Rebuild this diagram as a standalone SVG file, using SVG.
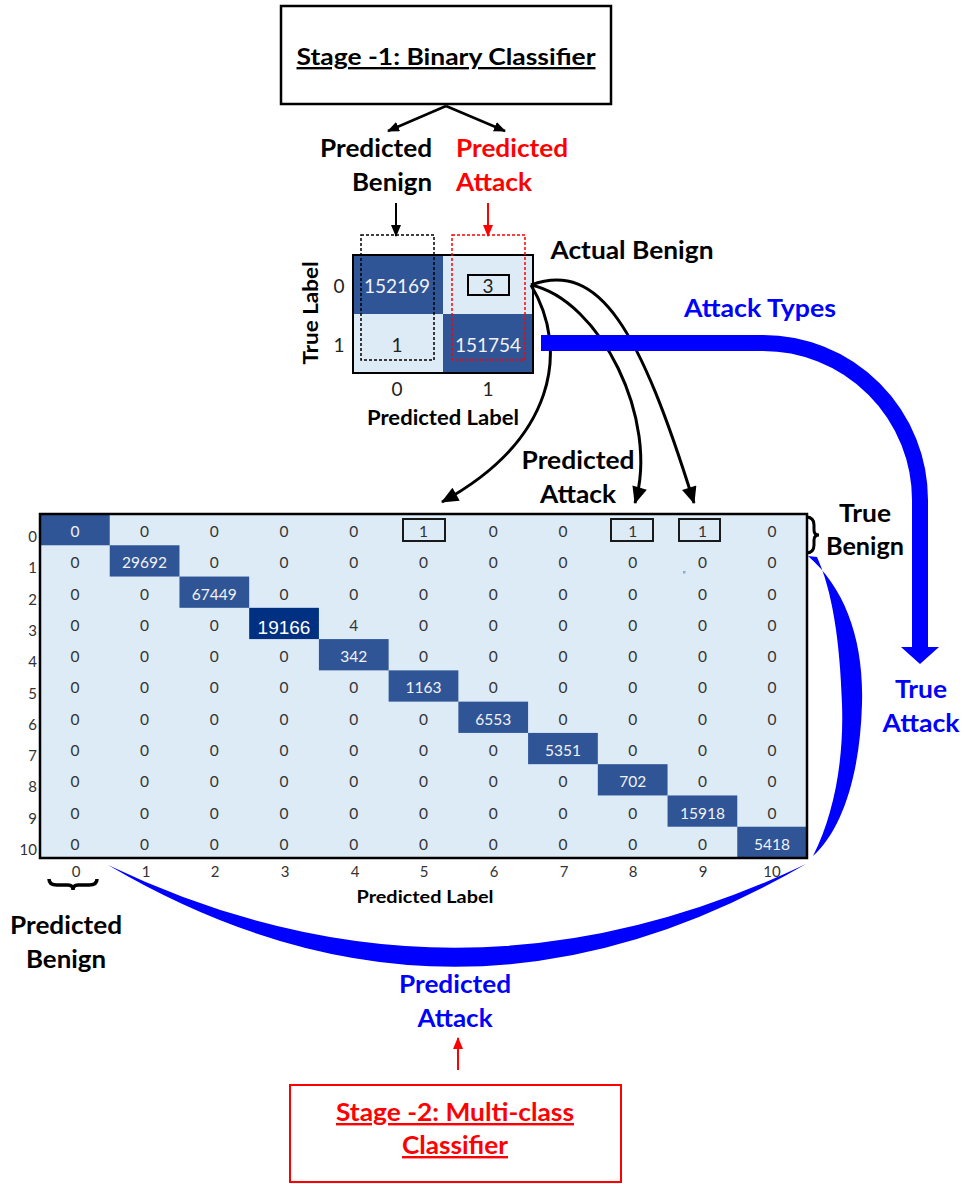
<svg xmlns="http://www.w3.org/2000/svg" width="964" height="1184" viewBox="0 0 964 1184">
<style>
.lb{font-family:Lato,"Liberation Sans",sans-serif;font-weight:bold;text-anchor:middle}
.k{fill:#000}
.r{fill:#FF0000}
.b{fill:#0000FF}
.c{font-family:Lato,"Liberation Sans",sans-serif;font-size:15.5px;text-anchor:middle;fill:#333}
.cw{font-family:Lato,"Liberation Sans",sans-serif;font-size:15.5px;text-anchor:middle;fill:#F2F2F2}
.ax{font-family:Lato,"Liberation Sans",sans-serif;font-size:15px;fill:#333}
.sm{font-family:Lato,"Liberation Sans",sans-serif;font-size:19px;text-anchor:middle}
.dk{fill:#2F5597}
.lt{fill:#DDEBF7}
.bx{fill:none;stroke:#1a1a1a;stroke-width:2}
.cv{fill:none;stroke:#000;stroke-width:3}
</style>
<defs>
<marker id="ah" viewBox="0 0 12 10" refX="11" refY="5" markerWidth="12" markerHeight="10" markerUnits="userSpaceOnUse" orient="auto">
<path d="M0,0 L12,5 L0,10 Z" fill="#000"/>
</marker>
<marker id="ahr" viewBox="0 0 12 10" refX="11" refY="5" markerWidth="12" markerHeight="10" markerUnits="userSpaceOnUse" orient="auto">
<path d="M0,0 L12,5 L0,10 Z" fill="#FF0000"/>
</marker>
<marker id="ahb" viewBox="0 0 16 14" refX="15" refY="7" markerWidth="18" markerHeight="15" markerUnits="userSpaceOnUse" orient="auto">
<path d="M0,0 L16,7 L0,14 Z" fill="#000"/>
</marker>
</defs>
<rect width="964" height="1184" fill="#fff"/>

<g id="stage1">
<rect x="281" y="6" width="330" height="98" fill="#fff" stroke="#000" stroke-width="2.5"/>
<text class="lb k" x="446" y="65" font-size="23.5" text-decoration="underline" textLength="299" lengthAdjust="spacingAndGlyphs">Stage -1: Binary Classifier</text>
</g>

<g id="pred-benign-top">
<text class="lb k" x="376" y="157" font-size="25" textLength="112" lengthAdjust="spacingAndGlyphs">Predicted</text>
<text class="lb k" x="392" y="191" font-size="25" textLength="80" lengthAdjust="spacingAndGlyphs">Benign</text>
</g>
<g id="pred-attack-top">
<text class="lb r" x="512" y="157" font-size="25" textLength="112" lengthAdjust="spacingAndGlyphs">Predicted</text>
<text class="lb r" x="494" y="191" font-size="25" textLength="76" lengthAdjust="spacingAndGlyphs">Attack</text>
</g>

<g id="binary-matrix">
<rect x="353" y="255" width="90" height="59" class="dk"/>
<rect x="443" y="255" width="90" height="59" class="lt"/>
<rect x="353" y="314" width="90" height="59" class="lt"/>
<rect x="443" y="314" width="90" height="59" class="dk"/>
<rect x="353" y="255" width="180" height="118" fill="none" stroke="#000" stroke-width="2"/>
<rect x="361" y="235" width="73" height="125" fill="none" stroke="#000" stroke-width="1.5" stroke-dasharray="3 2"/>
<rect x="452" y="235" width="73" height="125" fill="none" stroke="#FF0000" stroke-width="1.5" stroke-dasharray="3 2"/>
<rect x="468" y="275" width="41" height="20" fill="none" stroke="#000" stroke-width="2"/>
<text class="sm" x="397" y="293" fill="#F2F2F2">152169</text>
<text class="sm" x="488" y="293" fill="#222">3</text>
<text class="sm" x="397" y="352" fill="#222">1</text>
<text class="sm" x="488" y="352" fill="#F2F2F2">151754</text>
<text class="sm" x="339" y="293" fill="#222">0</text>
<text class="sm" x="339" y="352" fill="#222">1</text>
<text class="sm" x="397" y="396" fill="#222">0</text>
<text class="sm" x="488" y="396" fill="#222">1</text>
<text class="lb k" x="443" y="425" font-size="20" textLength="152" lengthAdjust="spacingAndGlyphs">Predicted Label</text>
<text class="lb k" font-size="20" transform="translate(318,313) rotate(-90)" textLength="103" lengthAdjust="spacingAndGlyphs">True Label</text>
</g>

<g id="actual-benign">
<text class="lb k" x="632" y="259" font-size="24" textLength="163" lengthAdjust="spacingAndGlyphs">Actual Benign</text>
</g>
<g id="attack-types">
<text class="lb b" x="760" y="317" font-size="24" textLength="152" lengthAdjust="spacingAndGlyphs">Attack Types</text>
</g>
<g id="pred-attack-mid">
<text class="lb k" x="578" y="469" font-size="25" textLength="113" lengthAdjust="spacingAndGlyphs">Predicted</text>
<text class="lb k" x="578" y="503" font-size="25" textLength="76" lengthAdjust="spacingAndGlyphs">Attack</text>
</g>
<g id="true-benign">
<path d="M806,517 q8,0 8,8 v5 q0,5 5,5 q-5,0 -5,5 v5 q0,8 -8,8" fill="none" stroke="#000" stroke-width="3"/>
<text class="lb k" x="865" y="522" font-size="24" textLength="52" lengthAdjust="spacingAndGlyphs">True</text>
<text class="lb k" x="865" y="555" font-size="24" textLength="78" lengthAdjust="spacingAndGlyphs">Benign</text>
</g>
<g id="true-attack">
<text class="lb b" x="921" y="698" font-size="24" textLength="52" lengthAdjust="spacingAndGlyphs">True</text>
<text class="lb b" x="921" y="732" font-size="24" textLength="77" lengthAdjust="spacingAndGlyphs">Attack</text>
</g>

<g id="multiclass-matrix">
<rect x="40" y="514" width="767" height="344" class="lt"/>
<rect x="40" y="514" width="69.73" height="31.27" class="dk"/>
<rect x="109.73" y="545.27" width="69.73" height="31.27" class="dk"/>
<rect x="179.45" y="576.55" width="69.73" height="31.27" class="dk"/>
<rect x="249.18" y="607.82" width="69.73" height="31.27" fill="#003082"/>
<rect x="318.91" y="639.09" width="69.73" height="31.27" class="dk"/>
<rect x="388.64" y="670.36" width="69.73" height="31.27" class="dk"/>
<rect x="458.36" y="701.64" width="69.73" height="31.27" class="dk"/>
<rect x="528.09" y="732.91" width="69.73" height="31.27" class="dk"/>
<rect x="597.82" y="764.18" width="69.73" height="31.27" class="dk"/>
<rect x="667.55" y="795.45" width="69.73" height="31.27" class="dk"/>
<rect x="737.27" y="826.73" width="69.73" height="31.27" class="dk"/>
<rect x="40" y="514" width="767" height="344" fill="none" stroke="#000" stroke-width="2.5"/>
<rect x="403" y="519" width="42" height="22" class="bx"/>
<rect x="611" y="519" width="42" height="22" class="bx"/>
<rect x="679" y="519" width="41" height="22" class="bx"/>
<rect x="683" y="571" width="2.5" height="2.5" fill="#8EA9DB"/>
<!-- row 0 -->
<text class="cw" x="74.9" y="537">0</text><text class="c" x="144.6" y="537">0</text><text class="c" x="214.3" y="537">0</text><text class="c" x="284" y="537">0</text><text class="c" x="353.8" y="537">0</text><text class="c" x="423.5" y="537">1</text><text class="c" x="493.2" y="537">0</text><text class="c" x="562.9" y="537">0</text><text class="c" x="632.7" y="537">1</text><text class="c" x="702.4" y="537">1</text><text class="c" x="772.1" y="537">0</text>
<!-- row 1 -->
<text class="c" x="74.9" y="568.3">0</text><text class="cw" x="144.6" y="568.3">29692</text><text class="c" x="214.3" y="568.3">0</text><text class="c" x="284" y="568.3">0</text><text class="c" x="353.8" y="568.3">0</text><text class="c" x="423.5" y="568.3">0</text><text class="c" x="493.2" y="568.3">0</text><text class="c" x="562.9" y="568.3">0</text><text class="c" x="632.7" y="568.3">0</text><text class="c" x="702.4" y="568.3">0</text><text class="c" x="772.1" y="568.3">0</text>
<!-- row 2 -->
<text class="c" x="74.9" y="599.6">0</text><text class="c" x="144.6" y="599.6">0</text><text class="cw" x="214.3" y="599.6">67449</text><text class="c" x="284" y="599.6">0</text><text class="c" x="353.8" y="599.6">0</text><text class="c" x="423.5" y="599.6">0</text><text class="c" x="493.2" y="599.6">0</text><text class="c" x="562.9" y="599.6">0</text><text class="c" x="632.7" y="599.6">0</text><text class="c" x="702.4" y="599.6">0</text><text class="c" x="772.1" y="599.6">0</text>
<!-- row 3 -->
<text class="c" x="74.9" y="630.9">0</text><text class="c" x="144.6" y="630.9">0</text><text class="c" x="214.3" y="630.9">0</text><text x="284" y="634" font-family="'Liberation Sans',Arial,sans-serif" font-size="19" text-anchor="middle" fill="#fff">19166</text><text class="c" x="353.8" y="630.9">4</text><text class="c" x="423.5" y="630.9">0</text><text class="c" x="493.2" y="630.9">0</text><text class="c" x="562.9" y="630.9">0</text><text class="c" x="632.7" y="630.9">0</text><text class="c" x="702.4" y="630.9">0</text><text class="c" x="772.1" y="630.9">0</text>
<!-- row 4 -->
<text class="c" x="74.9" y="662.1">0</text><text class="c" x="144.6" y="662.1">0</text><text class="c" x="214.3" y="662.1">0</text><text class="c" x="284" y="662.1">0</text><text class="cw" x="353.8" y="662.1">342</text><text class="c" x="423.5" y="662.1">0</text><text class="c" x="493.2" y="662.1">0</text><text class="c" x="562.9" y="662.1">0</text><text class="c" x="632.7" y="662.1">0</text><text class="c" x="702.4" y="662.1">0</text><text class="c" x="772.1" y="662.1">0</text>
<!-- row 5 -->
<text class="c" x="74.9" y="693.4">0</text><text class="c" x="144.6" y="693.4">0</text><text class="c" x="214.3" y="693.4">0</text><text class="c" x="284" y="693.4">0</text><text class="c" x="353.8" y="693.4">0</text><text class="cw" x="423.5" y="693.4">1163</text><text class="c" x="493.2" y="693.4">0</text><text class="c" x="562.9" y="693.4">0</text><text class="c" x="632.7" y="693.4">0</text><text class="c" x="702.4" y="693.4">0</text><text class="c" x="772.1" y="693.4">0</text>
<!-- row 6 -->
<text class="c" x="74.9" y="724.7">0</text><text class="c" x="144.6" y="724.7">0</text><text class="c" x="214.3" y="724.7">0</text><text class="c" x="284" y="724.7">0</text><text class="c" x="353.8" y="724.7">0</text><text class="c" x="423.5" y="724.7">0</text><text class="cw" x="493.2" y="724.7">6553</text><text class="c" x="562.9" y="724.7">0</text><text class="c" x="632.7" y="724.7">0</text><text class="c" x="702.4" y="724.7">0</text><text class="c" x="772.1" y="724.7">0</text>
<!-- row 7 -->
<text class="c" x="74.9" y="755.9">0</text><text class="c" x="144.6" y="755.9">0</text><text class="c" x="214.3" y="755.9">0</text><text class="c" x="284" y="755.9">0</text><text class="c" x="353.8" y="755.9">0</text><text class="c" x="423.5" y="755.9">0</text><text class="c" x="493.2" y="755.9">0</text><text class="cw" x="562.9" y="755.9">5351</text><text class="c" x="632.7" y="755.9">0</text><text class="c" x="702.4" y="755.9">0</text><text class="c" x="772.1" y="755.9">0</text>
<!-- row 8 -->
<text class="c" x="74.9" y="787.2">0</text><text class="c" x="144.6" y="787.2">0</text><text class="c" x="214.3" y="787.2">0</text><text class="c" x="284" y="787.2">0</text><text class="c" x="353.8" y="787.2">0</text><text class="c" x="423.5" y="787.2">0</text><text class="c" x="493.2" y="787.2">0</text><text class="c" x="562.9" y="787.2">0</text><text class="cw" x="632.7" y="787.2">702</text><text class="c" x="702.4" y="787.2">0</text><text class="c" x="772.1" y="787.2">0</text>
<!-- row 9 -->
<text class="c" x="74.9" y="818.5">0</text><text class="c" x="144.6" y="818.5">0</text><text class="c" x="214.3" y="818.5">0</text><text class="c" x="284" y="818.5">0</text><text class="c" x="353.8" y="818.5">0</text><text class="c" x="423.5" y="818.5">0</text><text class="c" x="493.2" y="818.5">0</text><text class="c" x="562.9" y="818.5">0</text><text class="c" x="632.7" y="818.5">0</text><text class="cw" x="702.4" y="818.5">15918</text><text class="c" x="772.1" y="818.5">0</text>
<!-- row 10 -->
<text class="c" x="74.9" y="849.8">0</text><text class="c" x="144.6" y="849.8">0</text><text class="c" x="214.3" y="849.8">0</text><text class="c" x="284" y="849.8">0</text><text class="c" x="353.8" y="849.8">0</text><text class="c" x="423.5" y="849.8">0</text><text class="c" x="493.2" y="849.8">0</text><text class="c" x="562.9" y="849.8">0</text><text class="c" x="632.7" y="849.8">0</text><text class="c" x="702.4" y="849.8">0</text><text class="cw" x="772.1" y="849.8">5418</text>
<!-- row labels -->
<g class="ax" text-anchor="end">
<text x="37" y="542">0</text><text x="37" y="573.4">1</text><text x="37" y="604.7">2</text><text x="37" y="636">3</text><text x="37" y="667.2">4</text><text x="37" y="698.5">5</text><text x="37" y="729.8">6</text><text x="37" y="761">7</text><text x="37" y="792.3">8</text><text x="37" y="823.6">9</text><text x="37" y="855">10</text>
</g>
<!-- column labels -->
<g class="ax" text-anchor="middle" font-size="14">
<text x="76" y="877">0</text><text x="146" y="877">1</text><text x="215" y="877">2</text><text x="285" y="877">3</text><text x="355" y="877">4</text><text x="424" y="877">5</text><text x="494" y="877">6</text><text x="564" y="877">7</text><text x="633" y="877">8</text><text x="703" y="877">9</text><text x="772" y="877">10</text>
</g>
<text class="lb k" x="425" y="903" font-size="16.5" textLength="137" lengthAdjust="spacingAndGlyphs">Predicted Label</text>
</g>

<g id="pred-benign-bottom">
<path d="M49,879 q0,6 8,6 h11 q5,0 5,5 q0,-5 5,-5 h11 q8,0 8,-6" fill="none" stroke="#000" stroke-width="3.5"/>
<text class="lb k" x="66" y="934" font-size="25" textLength="112" lengthAdjust="spacingAndGlyphs">Predicted</text>
<text class="lb k" x="66" y="968" font-size="25" textLength="80" lengthAdjust="spacingAndGlyphs">Benign</text>
</g>
<g id="pred-attack-bottom">
<text class="lb b" x="455" y="993" font-size="25" textLength="112" lengthAdjust="spacingAndGlyphs">Predicted</text>
<text class="lb b" x="455" y="1027" font-size="25" textLength="75" lengthAdjust="spacingAndGlyphs">Attack</text>
</g>

<g id="stage2">
<rect x="290" y="1085" width="331" height="97" fill="#fff" stroke="#FF0000" stroke-width="2"/>
<text class="lb r" x="455" y="1121" font-size="24" text-decoration="underline" textLength="238" lengthAdjust="spacingAndGlyphs">Stage -2: Multi-class</text>
<text class="lb r" x="455" y="1154" font-size="24" text-decoration="underline" textLength="106" lengthAdjust="spacingAndGlyphs">Classifier</text>
</g>

<g id="connectors">
<line x1="446" y1="106" x2="388" y2="131" stroke="#000" stroke-width="2.5" marker-end="url(#ah)"/>
<line x1="446" y1="106" x2="505" y2="131" stroke="#000" stroke-width="2.5" marker-end="url(#ah)"/>
<line x1="396" y1="203" x2="396" y2="236" stroke="#000" stroke-width="2" marker-end="url(#ah)"/>
<line x1="488" y1="203" x2="488" y2="236" stroke="#FF0000" stroke-width="2" marker-end="url(#ahr)"/>
<path class="cv" d="M531,285 C570,350 555,440 442,502" marker-end="url(#ahb)"/>
<path class="cv" d="M531,285 C600,300 660,420 635,503" marker-end="url(#ahb)"/>
<path class="cv" d="M531,285 C600,260 640,330 694,503" marker-end="url(#ahb)"/>
<path d="M541,343 H763 A157,157 0 0 1 920,500 V648" fill="none" stroke="#0000FF" stroke-width="16"/>
<polygon points="901,647 939,647 920,664" fill="#0000FF"/>
<path d="M808,556 C845,588 864,640 862,704 C860,775 842,830 813,856 C834,815 844,760 842,704 C840,640 832,590 817,557 Z" fill="#0000FF"/>
<path d="M108,865 Q455,1069 806,864 Q455,1031 108,865 Z" fill="#0000FF"/>
<line x1="458" y1="1070" x2="458" y2="1038" stroke="#FF0000" stroke-width="2" marker-end="url(#ahr)"/>
</g>
</svg>
